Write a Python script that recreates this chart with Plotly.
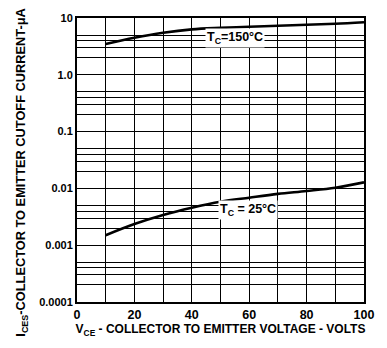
import math
import plotly.graph_objects as go

vce = [10, 20, 30, 40, 50, 60, 70, 80, 90, 100]
i_150 = [3.5, 4.5, 5.5, 6.3, 6.7, 7.0, 7.3, 7.6, 7.9, 8.4]
i_25 = [0.0015, 0.00236, 0.0034, 0.00457, 0.00583, 0.00686, 0.0080, 0.0090, 0.0103, 0.0128]

x_ticks = [0, 20, 40, 60, 80, 100]
y_ticks = [0.0001, 0.001, 0.01, 0.1, 1, 10]
y_tick_text = ["0.0001", "0.001", "0.01", "0.1", "1.0", "10"]
minor_y = [m * d for d in [0.0001, 0.001, 0.01, 0.1, 1] for m in [2, 3, 4, 5]]

FONT = "Liberation Sans"

fig = go.Figure()
fig.add_trace(go.Scatter(x=vce, y=i_150, mode="lines", line=dict(color="black", width=2.6, shape="spline"),
                         showlegend=False))
fig.add_trace(go.Scatter(x=vce, y=i_25, mode="lines", line=dict(color="black", width=2.6, shape="spline"),
                         showlegend=False))

fig.add_annotation(x=55, y=math.log10(4.4), yref="y", xref="x", text="T<sub>C</sub>=150°C", showarrow=False,
                   bgcolor="white", font=dict(family=FONT, size=12.5, color="black", weight="bold"))
fig.add_annotation(x=59.5, y=math.log10(0.0042), yref="y", xref="x", text="T<sub>C</sub> = 25°C", showarrow=False,
                   bgcolor="white", font=dict(family=FONT, size=12.5, color="black", weight="bold"))

fig.add_annotation(xref="paper", yref="paper", x=-0.192, xanchor="center", y=0.455, yanchor="middle",
                   textangle=-90,
                   text="I<sub>CES</sub>-COLLECTOR TO EMITTER CUTOFF CURRENT-μA", showarrow=False,
                   font=dict(family=FONT, size=12.8, color="black", weight="bold"))

fig.update_layout(
    width=387, height=348,
    margin=dict(l=77, r=23, t=18, b=46),
    paper_bgcolor="white", plot_bgcolor="white",
    font=dict(family=FONT, color="black"),
)
fig.update_xaxes(range=[0, 100], tickvals=x_ticks, ticks="", showgrid=True,
                 gridcolor="black", gridwidth=1.3,
                 minor=dict(tickvals=list(range(10, 100, 20)), showgrid=True, gridcolor="black", gridwidth=1.3),
                 showline=True, linecolor="black", linewidth=2, mirror=True,
                 tickfont=dict(family=FONT, size=12.5, weight="bold"),
                 title=dict(text="V<sub>CE</sub> - COLLECTOR TO EMITTER VOLTAGE - VOLTS",
                            font=dict(family=FONT, size=12, weight="bold"), standoff=1),
                 zeroline=False)
fig.update_yaxes(type="log", range=[-4, 1], tickvals=y_ticks, ticktext=y_tick_text, ticks="",
                 showgrid=True, gridcolor="black", gridwidth=1.3,
                 minor=dict(tickvals=minor_y, showgrid=True, gridcolor="black", gridwidth=1.1),
                 showline=True, linecolor="black", linewidth=2, mirror=True,
                 tickfont=dict(family=FONT, size=11, weight="bold"), zeroline=False)

fig.write_html("out.html")
